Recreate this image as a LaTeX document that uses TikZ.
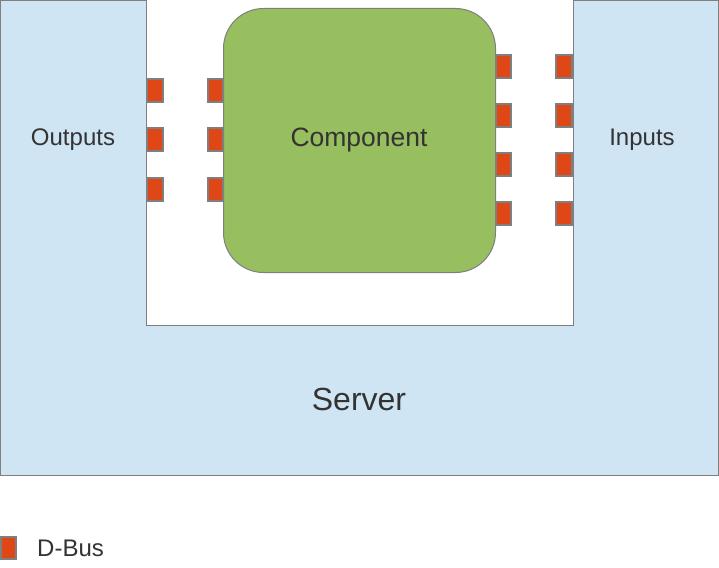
\documentclass[tikz,border=0pt]{standalone}
\usepackage{fontspec}
\setmainfont{Liberation Sans}
\definecolor{srvblue}{HTML}{CFE5F3}
\definecolor{cmpgreen}{HTML}{97BF5F}
\definecolor{busorange}{HTML}{E04716}
\definecolor{edgegray}{HTML}{7F7F7F}
\definecolor{txtgray}{HTML}{333333}
\begin{document}
\begin{tikzpicture}[x=1pt,y=-1pt,
  bus/.style={draw=edgegray,fill=busorange,line width=1.2pt},
  lbl/.style={text=txtgray,font=\fontsize{24}{28}\selectfont,inner sep=0pt}]
\useasboundingbox (0,0) rectangle (719,567);
% server U-shape
\draw[draw=edgegray,fill=srvblue,line width=1pt]
  (0.5,0.5) -- (146.5,0.5) -- (146.5,325.5) -- (573.5,325.5) -- (573.5,0.5)
  -- (718.5,0.5) -- (718.5,475.5) -- (0.5,475.5) -- cycle;
% component
\draw[draw=edgegray,fill=cmpgreen,line width=1pt,rounded corners=40pt]
  (223.5,8.5) rectangle (495.5,272.5);
% buses left (outputs)
\foreach \y [count=\i] in {79,128,178}{
  \draw[bus] (147,\y) rectangle (163,\y+23);
  \draw[bus] (208,\y) rectangle (223,\y+23);
}
% buses right (inputs)
\foreach \y in {55,104,153,202}{
  \draw[bus] (496,\y) rectangle (511,\y+23);
  \draw[bus] (556,\y) rectangle (572,\y+23);
}
% labels
\node[lbl] (outputs) at (73,140) {Outputs};
\node[lbl] (inputs) at (642,140) {Inputs};
\node[lbl,font=\fontsize{26.5}{30}\selectfont] (component) at (359,140) {Component};
\node[lbl,font=\fontsize{32}{36}\selectfont] (server) at (359,399) {Server};
% legend
\draw[bus] (1,537) rectangle (16,559);
\node[lbl,anchor=west] (dbus) at (37,548) {D-Bus};
\end{tikzpicture}
\end{document}
